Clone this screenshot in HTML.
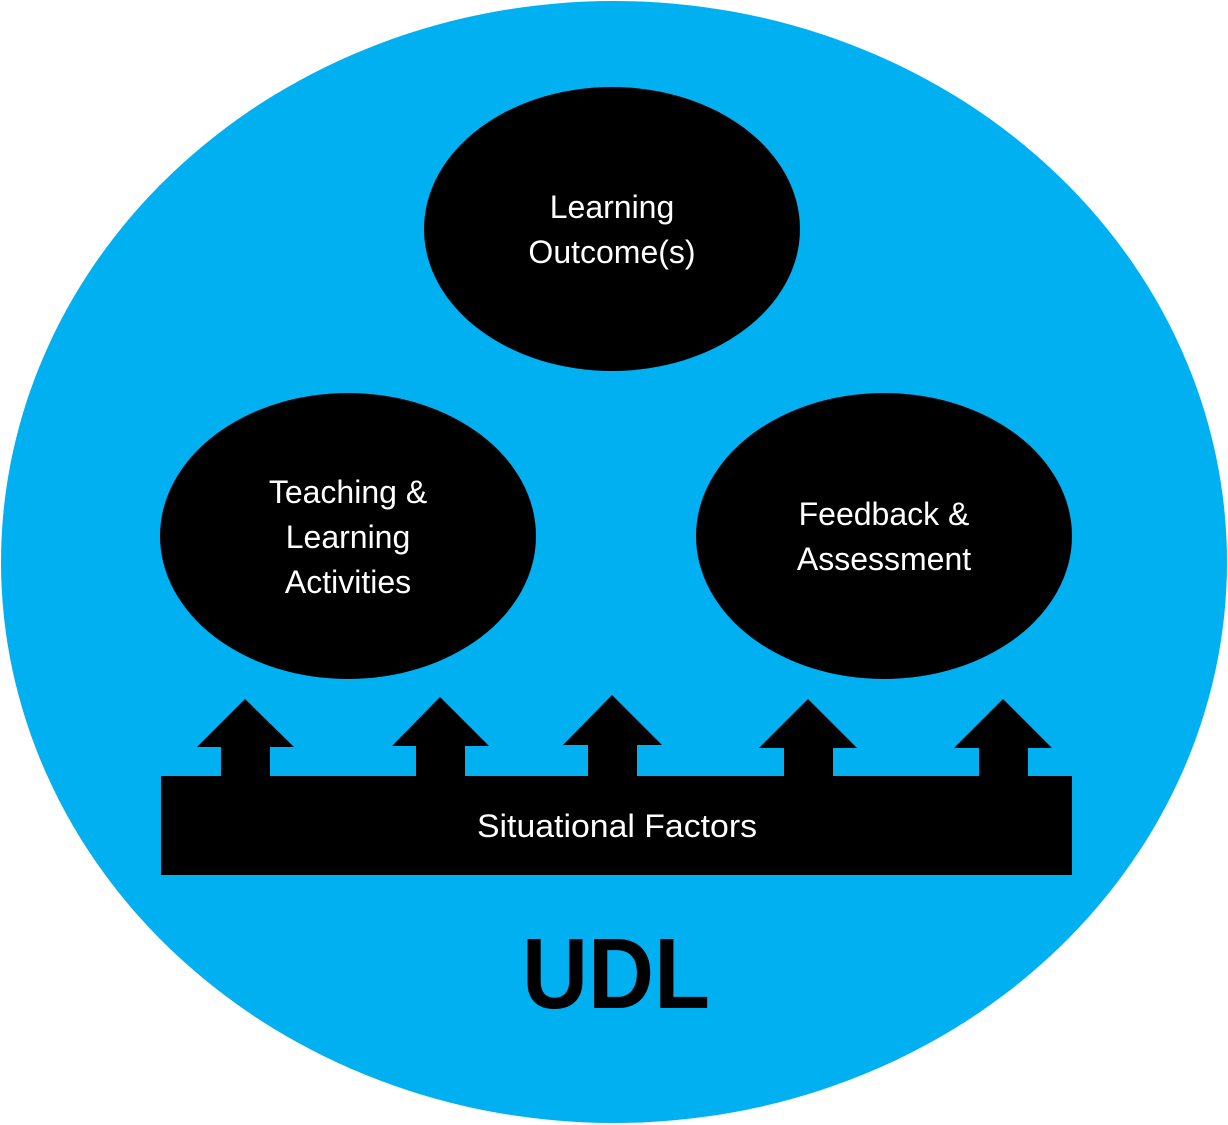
<!DOCTYPE html>
<html><head><meta charset="utf-8"><style>
html,body{margin:0;padding:0;background:#fff;}
svg{display:block;}
text{font-family:"Liberation Sans",sans-serif;}
</style></head><body>
<svg width="1228" height="1125" viewBox="0 0 1228 1125" xmlns="http://www.w3.org/2000/svg">
<ellipse cx="614" cy="562" rx="613" ry="561" fill="#00B0F0"/>
<ellipse cx="612" cy="229" rx="188" ry="142" fill="#000"/>
<ellipse cx="348" cy="536" rx="188" ry="143" fill="#000"/>
<ellipse cx="884" cy="536" rx="188" ry="143" fill="#000"/>
<rect x="161" y="776" width="911" height="99" fill="#000"/>
<g fill="#000">
<polygon points="245,699 294,747 270,747 270,777 221,777 221,747 197,747"/>
<polygon points="440,697 489,746 465,746 465,777 416,777 416,746 392,746"/>
<polygon points="612,695 662,745 637,745 637,777 588,777 588,745 563,745"/>
<polygon points="808,699 857,748 833,748 833,777 784,777 784,748 759,748"/>
<polygon points="1003,699 1052,748 1028,748 1028,777 979,777 979,748 954,748"/>
</g>
<g fill="#fff" font-size="32" text-anchor="middle">
<text x="612" y="218">Learning</text>
<text x="612" y="263">Outcome(s)</text>
<text x="348" y="503">Teaching &amp;</text>
<text x="348" y="548">Learning</text>
<text x="348" y="593">Activities</text>
<text x="884" y="525">Feedback &amp;</text>
<text x="884" y="570">Assessment</text>
<text x="617" y="837" textLength="280" lengthAdjust="spacingAndGlyphs">Situational Factors</text>
</g>
<text x="616" y="1008" font-size="100" font-weight="bold" text-anchor="middle" fill="#000" textLength="188" lengthAdjust="spacingAndGlyphs">UDL</text>
</svg>
</body></html>
